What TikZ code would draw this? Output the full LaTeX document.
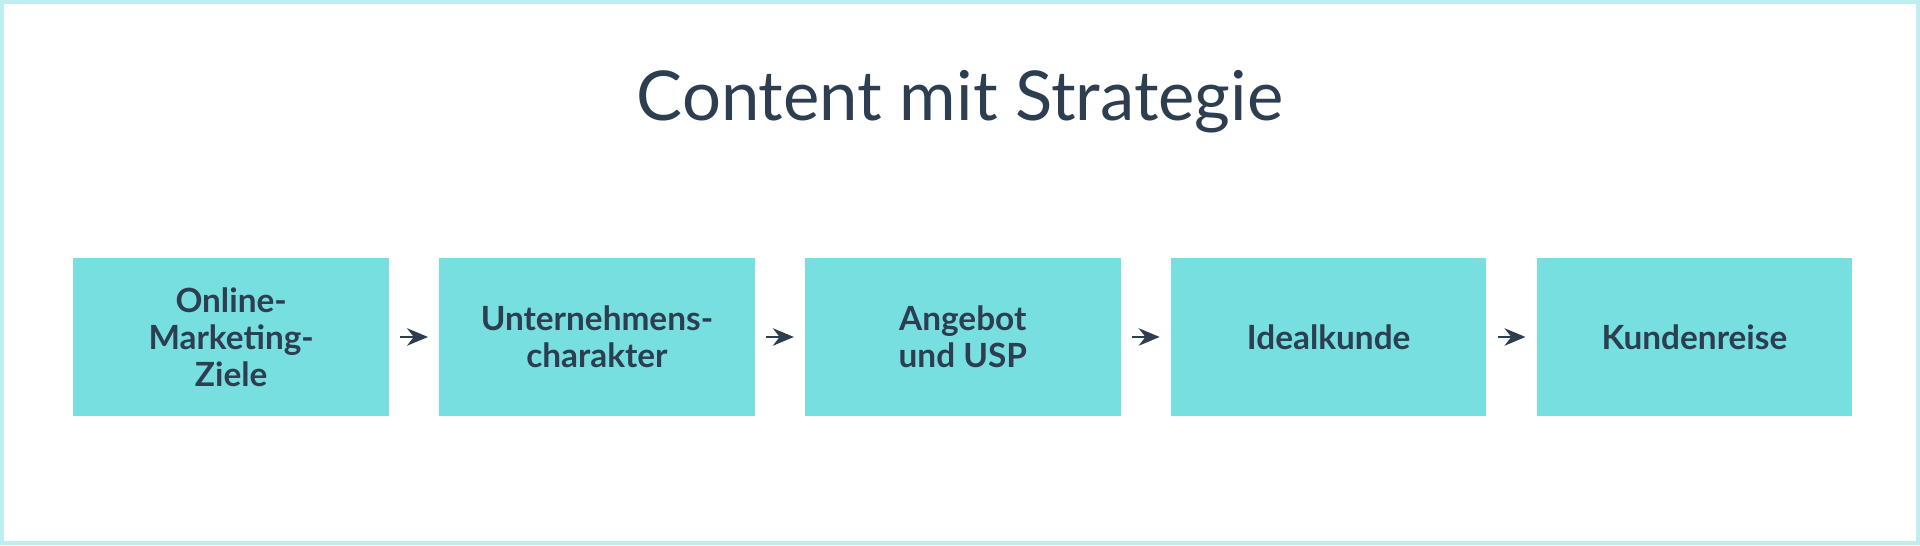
\documentclass[tikz,border=0pt]{standalone}
\usepackage{fontspec}
\setmainfont{Lato}
\usetikzlibrary{positioning, arrows.meta}
\definecolor{basecyan}{RGB}{120,223,224}
\definecolor{framecyan}{RGB}{190,238,240}
\definecolor{basenavy}{RGB}{44,62,80}

\begin{document}
\begin{tikzpicture}[font=\bfseries, text=basenavy]
  \tikzset{
    step_box/.style={
      rectangle, fill=basecyan, minimum width=3.16cm, minimum height=1.58cm,
      inner sep=2pt, align=center, font=\bfseries\fontsize{9.5pt}{10.6pt}\selectfont
    },
    connecting_arrow/.style={-{Stealth[length=6pt,width=5pt]}, thin, draw=basenavy,
      shorten <=3pt, shorten >=3pt}
  }

  % Frame fixes the bounding box
  \draw[framecyan, line width=1.2pt] (0.006,0.006) rectangle (19.194,5.424);
  \useasboundingbox (0,0) rectangle (19.2,5.43);

  \node[font=\fontsize{19.6pt}{22pt}\selectfont] (title) at (9.6,4.43) {Content mit Strategie};

  % Row of steps
  \node[step_box] (S-1) at (2.3,2.07) {Online-\\Marketing-\\Ziele};
  \foreach \txt [count=\xi from 2] in {Unternehmens-\\charakter, Angebot\\und USP, Idealkunde, Kundenreise} {
    \pgfmathtruncatemacro{\prev}{\xi-1}
    \node[step_box, right=0.49cm of S-\prev] (S-\xi) {\txt};
    \draw[connecting_arrow] (S-\prev) -- (S-\xi);
  }

\end{tikzpicture}
\end{document}
